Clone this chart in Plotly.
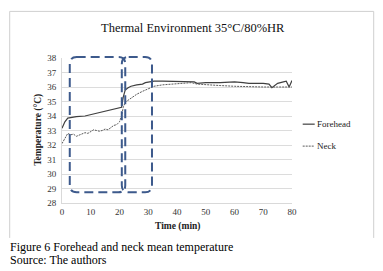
import plotly.graph_objects as go

# ---- data ----
title_text = "Thermal Environment 35°C/80%HR"
series_names = ["Forehead", "Neck"]

forehead_t = [0, 1, 2, 3, 5, 8, 10, 12, 15, 18, 20, 20.7, 21.3, 22, 23, 24, 26, 28, 29, 30, 32, 35, 40, 45, 46, 47, 50, 55, 60, 63, 65, 70, 72, 73, 74, 75, 77, 78, 79, 80]
forehead_v = [33.15, 33.6, 33.85, 33.9, 33.95, 34.0, 34.1, 34.2, 34.3, 34.45, 34.55, 34.6, 35.3, 35.8, 35.95, 36.05, 36.15, 36.2, 36.3, 36.35, 36.4, 36.4, 36.4, 36.4, 36.35, 36.25, 36.3, 36.3, 36.35, 36.3, 36.25, 36.25, 36.2, 35.95, 36.1, 36.25, 36.35, 36.4, 36.0, 36.45]

neck_t = [0, 1, 2, 3, 4, 5, 6, 7, 8, 9, 10, 11, 12, 13, 14, 15, 16, 17, 18, 19, 20, 20.7, 21.3, 22, 24, 26, 28, 30, 32, 35, 40, 45, 47, 50, 55, 60, 65, 70, 75, 80]
neck_v = [32.1, 32.5, 32.8, 32.7, 32.75, 32.6, 32.7, 32.8, 32.85, 32.8, 32.9, 33.05, 33.0, 32.95, 33.0, 33.1, 33.05, 33.2, 33.35, 33.4, 33.6, 34.0, 34.6, 34.95, 35.25, 35.5, 35.7, 35.9, 36.05, 36.15, 36.25, 36.3, 36.2, 36.15, 36.1, 36.05, 36.0, 36.0, 36.0, 36.0]

x_ticks = [0, 10, 20, 30, 40, 50, 60, 70, 80]
y_ticks = [28, 29, 30, 31, 32, 33, 34, 35, 36, 37, 38]

# highlight boxes (data units): x0, x1, y0, y1
boxes = [(2.7, 22.0, 28.74, 38.07), (20.8, 31.3, 28.74, 38.07)]

X_RANGE = [0, 80]
Y_RANGE = [28, 38]

# ---- layout geometry (pixels, in reference-image coordinates) ----
W, H = 383, 271
OFF = 8  # page body margin
PL, PR, PT, PB = 62.3, 292.3, 57.7, 203.0
FONT = "Liberation Serif"

def px(x):
    return (x - PL) / (PR - PL)

def py(y):
    return (PB - y) / (PB - PT)

def dx(v):
    return (v - X_RANGE[0]) / (X_RANGE[1] - X_RANGE[0])

def dy(v):
    return (v - Y_RANGE[0]) / (Y_RANGE[1] - Y_RANGE[0])

fig = go.Figure()
fig.add_trace(go.Scatter(x=forehead_t, y=forehead_v, mode="lines", name=series_names[0],
                         line=dict(color="#404040", width=1.2)))
fig.add_trace(go.Scatter(x=neck_t, y=neck_v, mode="lines", name=series_names[1],
                         line=dict(color="#5a5a5a", width=1, dash="2px,1px")))

shapes = []
# rounded dashed boxes (paper coords so they are not clipped)
rx, ry = 2.4, 0.48
for (bx0, bx1, by0, by1) in boxes:
    x0, x1, y0, y1 = dx(bx0), dx(bx1), dy(by0), dy(by1)
    rxp, ryp = rx / 80, ry / 10
    path = (f"M {x0+rxp},{y1} L {x1-rxp},{y1} Q {x1},{y1} {x1},{y1-ryp} "
            f"L {x1},{y0+ryp} Q {x1},{y0} {x1-rxp},{y0} L {x0+rxp},{y0} "
            f"Q {x0},{y0} {x0},{y0+ryp} L {x0},{y1-ryp} Q {x0},{y1} {x0+rxp},{y1} Z")
    shapes.append(dict(type="path", path=path, xref="paper", yref="paper",
                       line=dict(color="#3D5A8C", width=2, dash="9px,5px")))

# outer frame (left, top, right)
frame = dict(color="#cfcfcf", width=1)
shapes.append(dict(type="line", xref="paper", yref="paper", x0=px(10), x1=px(10), y0=py(11), y1=py(238), line=frame))
shapes.append(dict(type="line", xref="paper", yref="paper", x0=px(10), x1=px(374), y0=py(11), y1=py(11), line=frame))
shapes.append(dict(type="line", xref="paper", yref="paper", x0=px(374), x1=px(374), y0=py(11), y1=py(238), line=frame))

# legend samples
shapes.append(dict(type="line", xref="paper", yref="paper", x0=px(303), x1=px(315), y0=py(124), y1=py(124),
                   line=dict(color="#404040", width=1.2)))
shapes.append(dict(type="line", xref="paper", yref="paper", x0=px(303), x1=px(315), y0=py(146), y1=py(146),
                   line=dict(color="#5a5a5a", width=1, dash="2px,1px")))

annotations = [
    dict(text=title_text, x=px(193), y=py(28), xref="paper", yref="paper", showarrow=False,
         xanchor="center", yanchor="middle", font=dict(family=FONT, size=12.5, color="#111")),
    dict(text=series_names[0], x=px(315), y=py(124), xref="paper", yref="paper", showarrow=False,
         xanchor="left", yanchor="middle", font=dict(family=FONT, size=9, color="#222")),
    dict(text=series_names[1], x=px(315), y=py(146), xref="paper", yref="paper", showarrow=False,
         xanchor="left", yanchor="middle", font=dict(family=FONT, size=9, color="#222")),
    dict(text="<b>Time (min)</b>", x=px(178), y=py(227), xref="paper", yref="paper", showarrow=False,
         xanchor="center", yanchor="middle", font=dict(family=FONT, size=9.5, color="#222")),
    dict(text="<b>Temperature (°C)</b>", x=px(38), y=py(130), xref="paper", yref="paper", showarrow=False,
         xanchor="center", yanchor="middle", textangle=-90, font=dict(family=FONT, size=9.5, color="#222")),
    dict(text="Figure 6 Forehead and neck mean temperature", x=px(8), y=py(247), xref="paper", yref="paper",
         showarrow=False, xanchor="left", yanchor="middle", font=dict(family=FONT, size=12, color="#000")),
    dict(text="Source: The authors", x=px(8), y=py(260), xref="paper", yref="paper",
         showarrow=False, xanchor="left", yanchor="middle", font=dict(family=FONT, size=12, color="#000")),
]

fig.update_layout(
    width=W - OFF, height=H - OFF,
    margin=dict(l=PL - OFF, r=W - PR, t=PT - OFF, b=H - PB, pad=0),
    paper_bgcolor="white", plot_bgcolor="white",
    showlegend=False,
    font=dict(family=FONT),
    shapes=shapes, annotations=annotations,
    xaxis=dict(range=X_RANGE, tickvals=x_ticks, showgrid=False, zeroline=False,
               showline=True, linecolor="#d9d9d9", linewidth=1, ticks="",
               tickfont=dict(family=FONT, size=9, color="#333")),
    yaxis=dict(range=Y_RANGE, tickvals=y_ticks, showgrid=True, gridcolor="#dcdcdc", gridwidth=1,
               zeroline=False, showline=True, linecolor="#d9d9d9", linewidth=1, ticks="",
               ticklabelstandoff=3,
               tickfont=dict(family=FONT, size=9, color="#333")),
)

fig.write_html("out.html")
